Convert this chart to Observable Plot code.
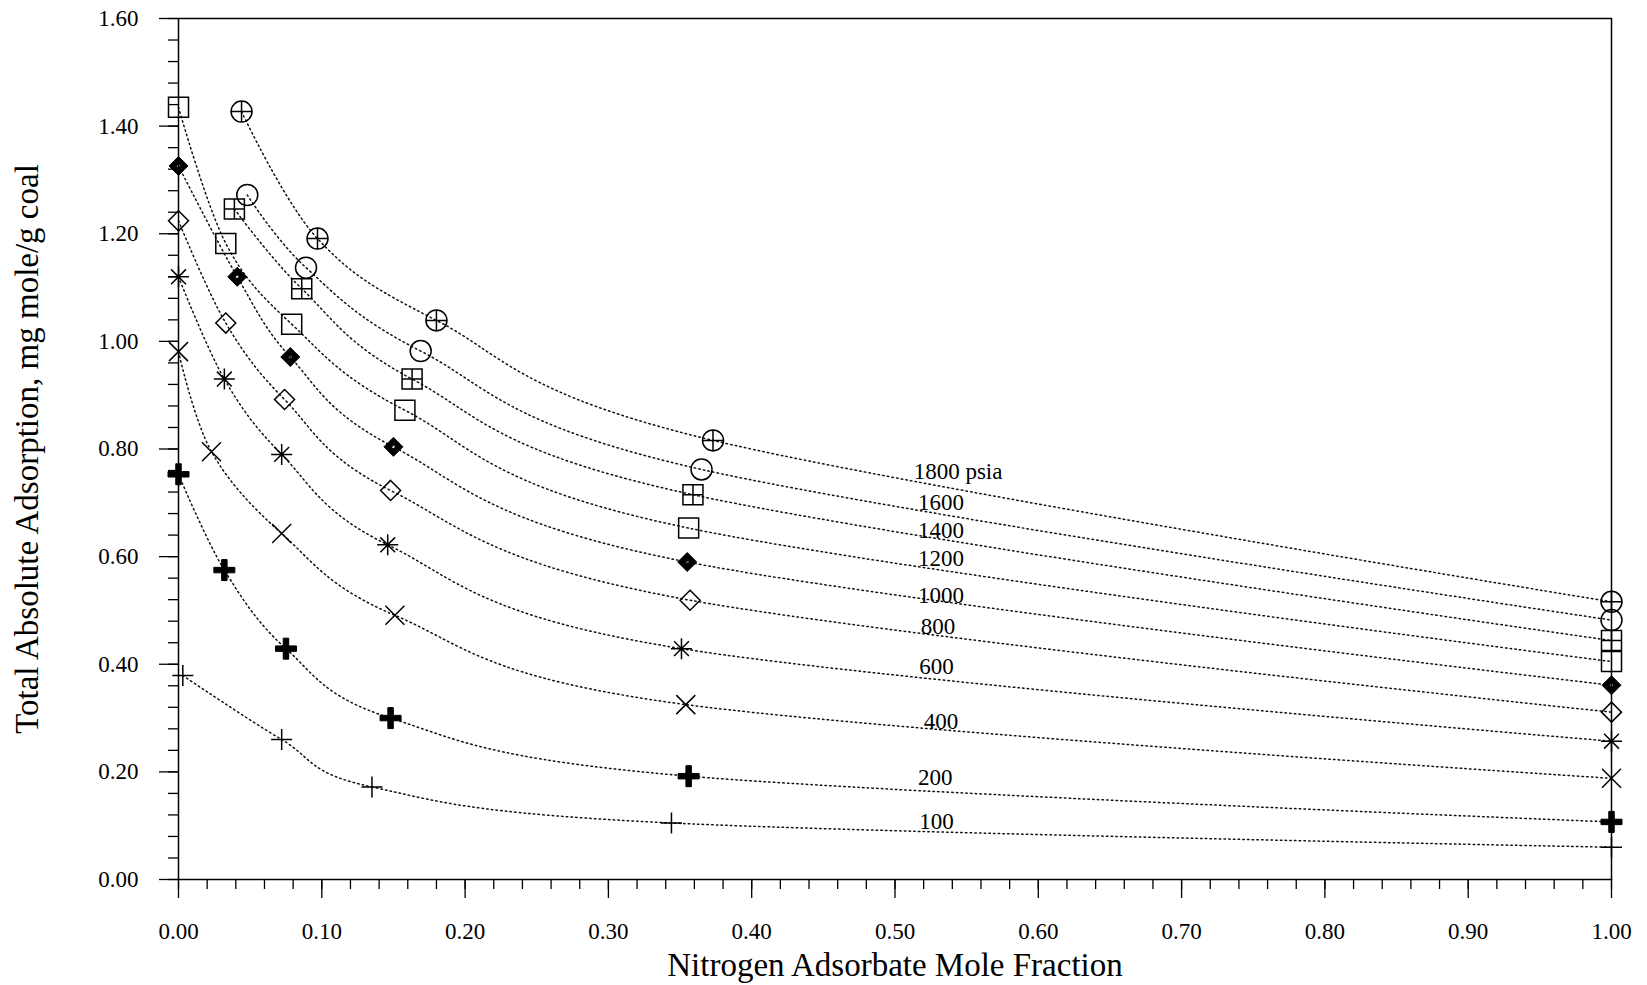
<!DOCTYPE html>
<html>
<head>
<meta charset="utf-8">
<script src="https://cdn.jsdelivr.net/npm/d3@7"></script>
<script src="https://cdn.jsdelivr.net/npm/@observablehq/plot@0.6"></script>
<style>
  html, body { margin: 0; padding: 0; background: #fff; overflow: hidden; }
  #chart svg { display: block; }
</style>
</head>
<body>
<div id="chart"></div>
<script>
// Total absolute adsorption of CH4/N2 mixtures on coal versus the nitrogen
// mole fraction of the adsorbate, one isotherm per total pressure (psia).

const pressures   = [1800, 1600, 1400, 1200, 1000, 800, 600, 400, 200, 100];
const curveLabels = ["1800 psia", "1600", "1400", "1200", "1000", "800", "600", "400", "200", "100"];
// anchor of each pressure label, in data units (mole fraction, mg mole/g)
const labelMoleFraction = [0.513, 0.516, 0.516, 0.516, 0.516, 0.518, 0.517, 0.520, 0.516, 0.517];
const labelAdsorption   = [0.758, 0.701, 0.649, 0.596, 0.528, 0.469, 0.395, 0.294, 0.190, 0.107];

// measured points: nitrogen adsorbate mole fraction / total absolute adsorption
const n2_1800 = [0.044, 0.097, 0.180, 0.373, 1.00];
const ads_1800 = [1.427, 1.191, 1.039, 0.816, 0.516];
const n2_1600 = [0.048, 0.089, 0.169, 0.365, 1.00];
const ads_1600 = [1.272, 1.137, 0.982, 0.762, 0.482];
const n2_1400 = [0.039, 0.086, 0.163, 0.359, 1.00];
const ads_1400 = [1.246, 1.098, 0.930, 0.715, 0.444];
const n2_1200 = [0.000, 0.033, 0.079, 0.158, 0.356, 1.00];
const ads_1200 = [1.435, 1.182, 1.032, 0.872, 0.653, 0.405];
const n2_1000 = [0.000, 0.041, 0.078, 0.150, 0.355, 1.00];
const ads_1000 = [1.326, 1.120, 0.971, 0.804, 0.590, 0.361];
const n2_800 = [0.000, 0.033, 0.074, 0.148, 0.357, 1.00];
const ads_800 = [1.224, 1.034, 0.892, 0.723, 0.519, 0.311];
const n2_600 = [0.000, 0.032, 0.072, 0.146, 0.351, 1.00];
const ads_600 = [1.120, 0.930, 0.790, 0.622, 0.429, 0.257];
const n2_400 = [0.000, 0.023, 0.072, 0.151, 0.354, 1.00];
const ads_400 = [0.981, 0.795, 0.643, 0.491, 0.325, 0.188];
const n2_200 = [0.000, 0.032, 0.075, 0.148, 0.356, 1.00];
const ads_200 = [0.753, 0.575, 0.429, 0.300, 0.192, 0.107];
const n2_100 = [0.003, 0.072, 0.135, 0.344, 1.00];
const ads_100 = [0.379, 0.260, 0.172, 0.105, 0.060];

const xMajorTicks = [0.0, 0.1, 0.2, 0.3, 0.4, 0.5, 0.6, 0.7, 0.8, 0.9, 1.0];
const yMajorTicks = [0.0, 0.2, 0.4, 0.6, 0.8, 1.0, 1.2, 1.4, 1.6];
const xTitle = "Nitrogen Adsorbate Mole Fraction";
const yTitle = "Total Absolute Adsorption, mg mole/g coal";

// ---- marker shapes (size arrives as pi*r^2 from Plot.dot) ----
const rOf = (s) => Math.sqrt(s / Math.PI);
const symCirclePlus = { draw(c, s) { const r = rOf(s); c.moveTo(r, 0); c.arc(0, 0, r, 0, 2 * Math.PI); c.moveTo(-r, 0); c.lineTo(r, 0); c.moveTo(0, -r); c.lineTo(0, r); } };
const symCircle = { draw(c, s) { const r = rOf(s); c.moveTo(r, 0); c.arc(0, 0, r, 0, 2 * Math.PI); } };
const symSquarePlus = { draw(c, s) { const r = rOf(s); c.rect(-r, -r, 2 * r, 2 * r); c.moveTo(-r, 0); c.lineTo(r, 0); c.moveTo(0, -r); c.lineTo(0, r); } };
const symSquare = { draw(c, s) { const r = rOf(s); c.rect(-r, -r, 2 * r, 2 * r); } };
const symDiamondDot = { draw(c, s) {
  const r = rOf(s), h = r * 0.17;
  c.moveTo(0, -r); c.lineTo(r, 0); c.lineTo(0, r); c.lineTo(-r, 0); c.closePath();
  c.moveTo(-h, -h); c.lineTo(-h, h); c.lineTo(h, h); c.lineTo(h, -h); c.closePath();
} };
const symDiamond = { draw(c, s) { const r = rOf(s); c.moveTo(0, -r); c.lineTo(r, 0); c.lineTo(0, r); c.lineTo(-r, 0); c.closePath(); } };
const symStar = { draw(c, s) {
  const r = rOf(s), d = r * Math.SQRT1_2;
  c.moveTo(-r, 0); c.lineTo(r, 0); c.moveTo(0, -r); c.lineTo(0, r);
  c.moveTo(-d, -d); c.lineTo(d, d); c.moveTo(-d, d); c.lineTo(d, -d);
} };
const symTimes = { draw(c, s) { const r = rOf(s); c.moveTo(-r, -r); c.lineTo(r, r); c.moveTo(-r, r); c.lineTo(r, -r); } };
const symBoldCross = { draw(c, s) {
  const r = rOf(s), w = r * 0.26;
  c.moveTo(-r, -w); c.lineTo(-w, -w); c.lineTo(-w, -r); c.lineTo(w, -r); c.lineTo(w, -w); c.lineTo(r, -w);
  c.lineTo(r, w); c.lineTo(w, w); c.lineTo(w, r); c.lineTo(-w, r); c.lineTo(-w, w); c.lineTo(-r, w); c.closePath();
} };
const symPlus = { draw(c, s) { const r = rOf(s); c.moveTo(-r, 0); c.lineTo(r, 0); c.moveTo(0, -r); c.lineTo(0, r); } };

// one entry per isotherm: data arrays + marker style
const series = [
  { p: 1800, xs: n2_1800, ys: ads_1800, symbol: symCirclePlus, r: 10.5, filled: false },
  { p: 1600, xs: n2_1600, ys: ads_1600, symbol: symCircle,     r: 10.5, filled: false },
  { p: 1400, xs: n2_1400, ys: ads_1400, symbol: symSquarePlus, r: 10,   filled: false },
  { p: 1200, xs: n2_1200, ys: ads_1200, symbol: symSquare,     r: 10,   filled: false },
  { p: 1000, xs: n2_1000, ys: ads_1000, symbol: symDiamondDot, r: 9.5,  filled: true  },
  { p: 800,  xs: n2_800,  ys: ads_800,  symbol: symDiamond,    r: 10,   filled: false },
  { p: 600,  xs: n2_600,  ys: ads_600,  symbol: symStar,       r: 10.5, filled: false },
  { p: 400,  xs: n2_400,  ys: ads_400,  symbol: symTimes,      r: 9.5,  filled: false },
  { p: 200,  xs: n2_200,  ys: ads_200,  symbol: symBoldCross,  r: 10.5, filled: true  },
  { p: 100,  xs: n2_100,  ys: ads_100,  symbol: symPlus,       r: 10.5, filled: false }
];

const rows = series.flatMap((s) => s.xs.map((x, i) => ({ pressure: s.p, x, y: s.ys[i] })));
const labels = curveLabels.map((t, i) => ({ text: t, x: labelMoleFraction[i], y: labelAdsorption[i] }));

const xMinorTicks = d3.range(0, 51).map((i) => i / 50);
const yMinorTicks = d3.range(0, 41).map((i) => i / 25);
const fmt = d3.format(".2f");

const marks = [
  Plot.line(rows, {
    x: "x", y: "y", z: "pressure", curve: "cardinal",
    stroke: "#111", strokeWidth: 1.5, strokeDasharray: "1.5,3.2"
  }),
  ...series.map((s) => Plot.dot(rows.filter((d) => d.pressure === s.p), {
    x: "x", y: "y", r: s.r, symbol: s.symbol,
    fill: s.filled ? "black" : "none",
    stroke: "black",
    strokeWidth: s.filled ? 1 : 1.5
  })),
  Plot.text(labels, { x: "x", y: "y", text: "text", textAnchor: "start", fontSize: 23, fill: "black" }),
  Plot.axisX({ ticks: xMinorTicks, tickSize: 10, tickFormat: () => "", label: null, strokeWidth: 1.3 }),
  Plot.axisX({ ticks: xMajorTicks, tickSize: 19, tickPadding: 24, tickFormat: fmt, fontSize: 23, label: null, strokeWidth: 1.3 }),
  Plot.axisY({ ticks: yMinorTicks, tickSize: 10, tickFormat: () => "", label: null, strokeWidth: 1.3 }),
  Plot.axisY({ ticks: yMajorTicks, tickSize: 19, tickPadding: 21, tickFormat: fmt, fontSize: 23, label: null, strokeWidth: 1.3 }),
  Plot.frame({ stroke: "black", strokeWidth: 1.5 }),
  Plot.text([xTitle], { text: (d) => d, frameAnchor: "bottom", lineAnchor: "bottom", textAnchor: "middle", dy: 96, fontSize: 33, fill: "black" }),
  Plot.text([yTitle], { text: (d) => d, frameAnchor: "left", lineAnchor: "bottom", textAnchor: "middle", dx: -141, rotate: -90, fontSize: 33, fill: "black" })
];

const chart = Plot.plot({
  width: 1647,
  height: 985,
  marginLeft: 178,
  marginRight: 36,
  marginTop: 18,
  marginBottom: 106,
  x: { domain: [0, 1] },
  y: { domain: [0, 1.6] },
  style: { fontFamily: "'Liberation Serif', 'Times New Roman', serif", fontSize: "23px", color: "black", background: "white" },
  marks
});
document.getElementById("chart").append(chart);
</script>
</body>
</html>
